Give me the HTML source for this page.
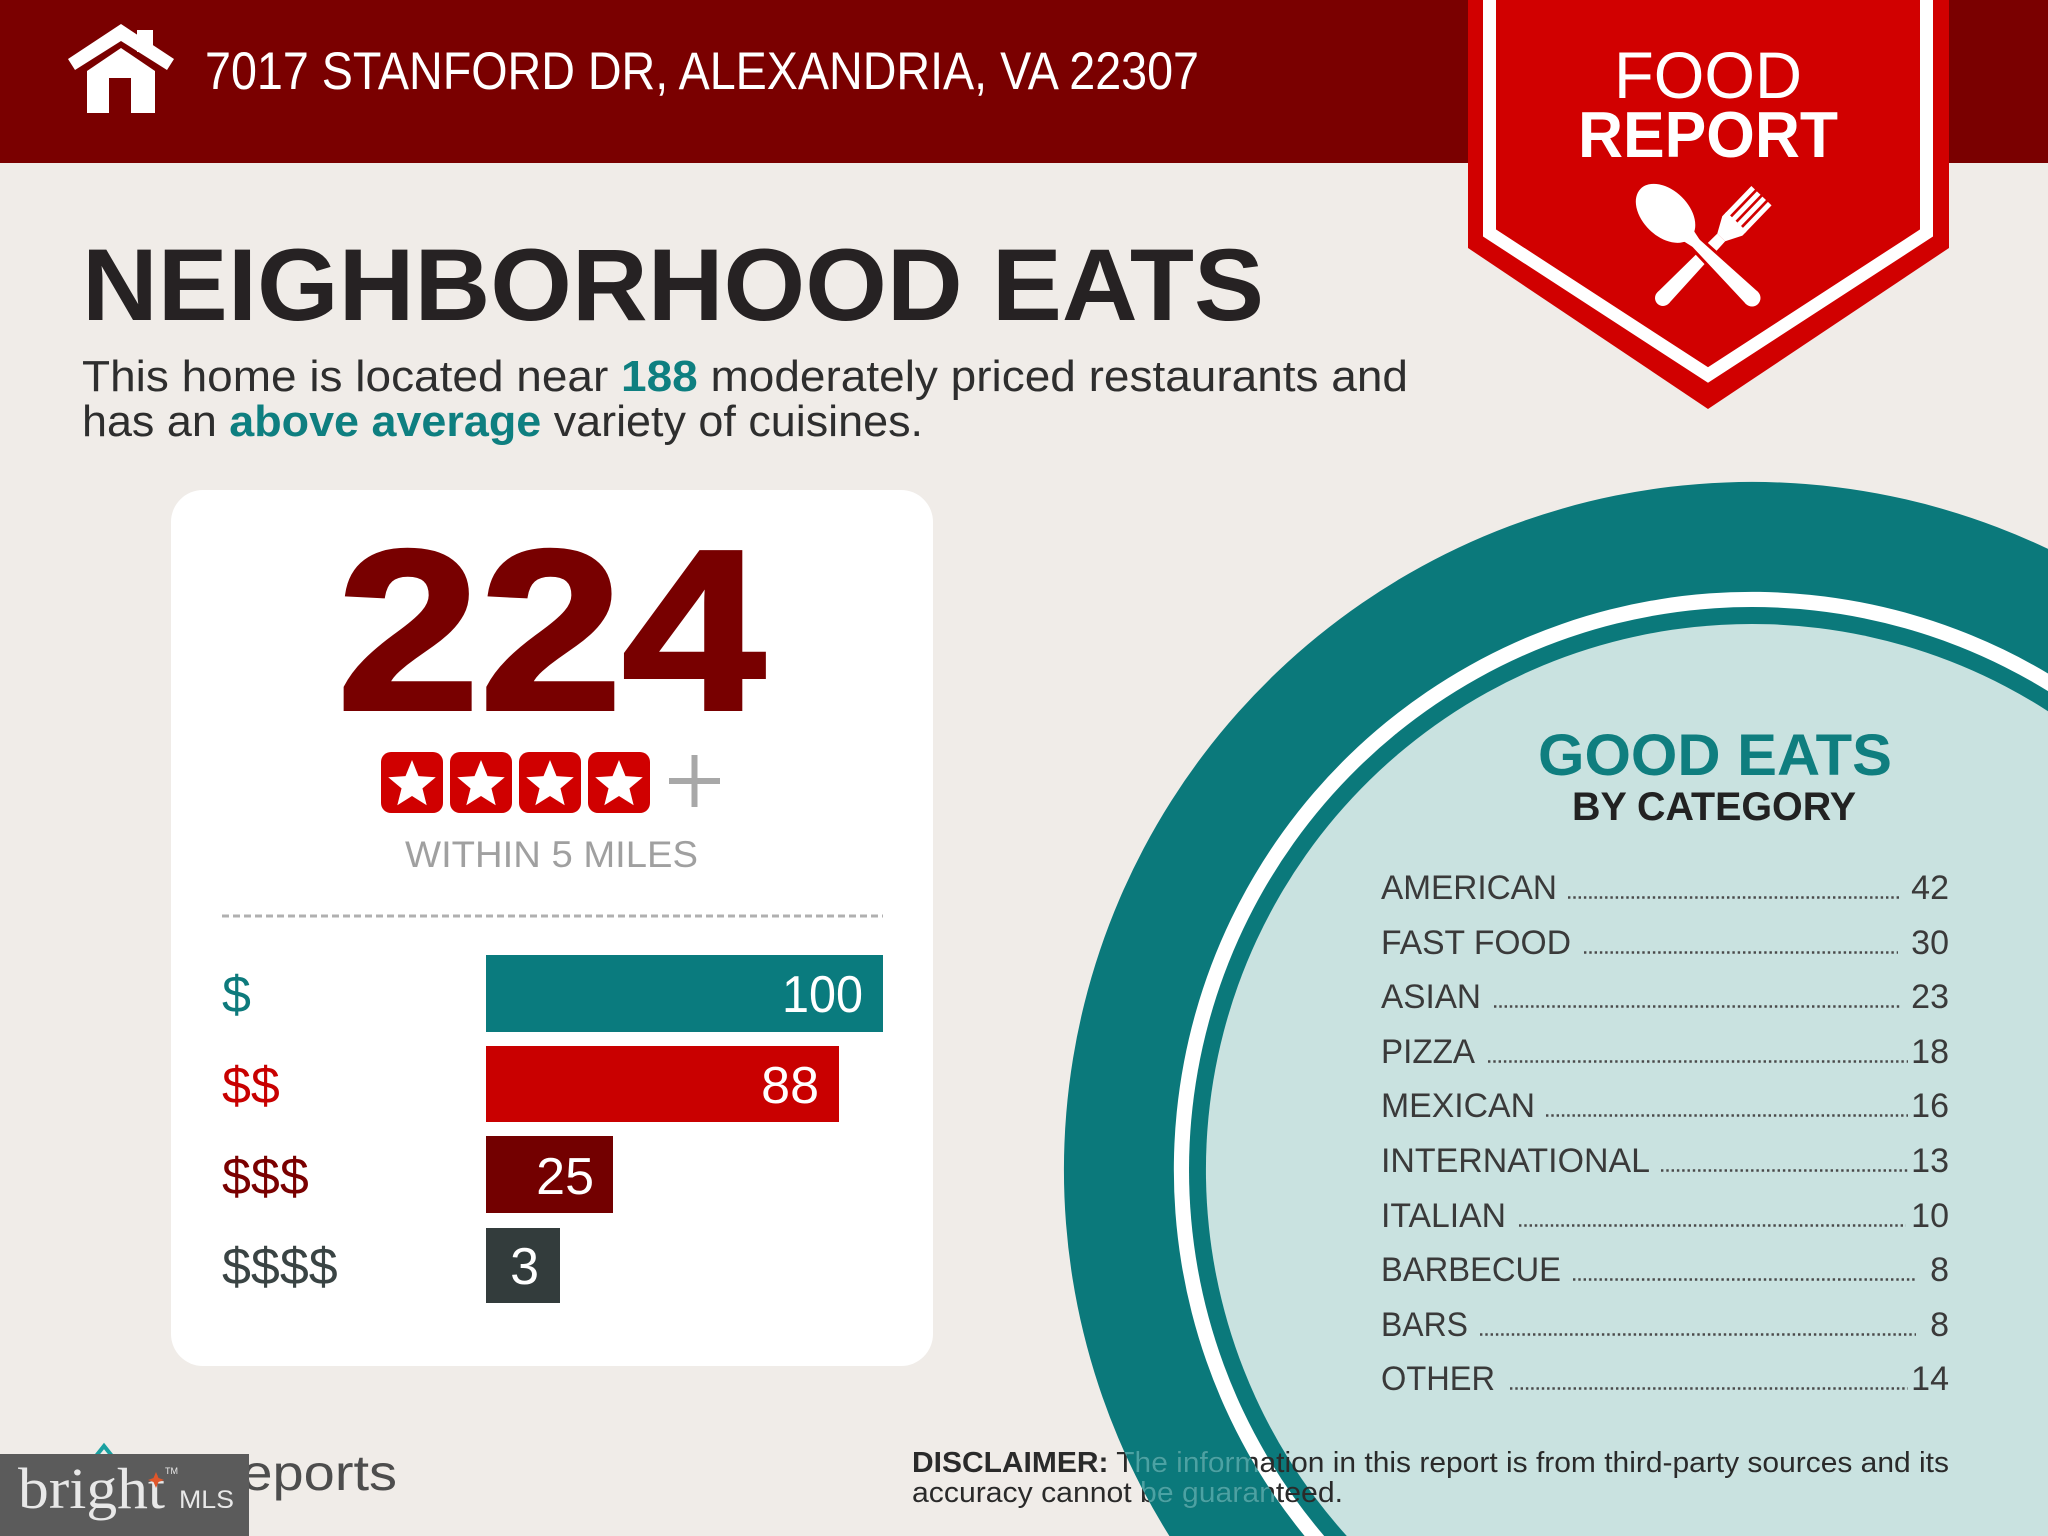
<!DOCTYPE html>
<html>
<head>
<meta charset="utf-8">
<style>
html,body{margin:0;padding:0;background:#f0ece8;width:2048px;height:1536px;overflow:hidden;}
svg{display:block;}
text{font-family:"Liberation Sans",Arial,sans-serif;}
</style>
</head>
<body>
<svg width="2048" height="1536" viewBox="0 0 2048 1536" xmlns="http://www.w3.org/2000/svg">
<defs>
  <polygon id="star" points="0,-25 6.47,-8.9 23.78,-7.73 10.46,3.4 14.69,20.23 0,11 -14.69,20.23 -10.46,3.4 -23.78,-7.73 -6.47,-8.9" fill="#ffffff"/>
  <clipPath id="ring">
    <path clip-rule="evenodd" d="M1064,1170 a688,688 0 1,0 1376,0 a688,688 0 1,0 -1376,0 Z M1174,1170 a578,578 0 1,0 1156,0 a578,578 0 1,0 -1156,0 Z"/>
  </clipPath>
</defs>

<!-- background -->
<rect x="0" y="0" width="2048" height="1536" fill="#f0ece8"/>

<!-- header band -->
<rect x="0" y="0" width="2048" height="163" fill="#7a0000"/>

<!-- house icon -->
<rect x="137" y="30" width="16" height="22" fill="#ffffff"/>
<polygon points="121,24 174,59 167,70 121,41 75,70 68,59" fill="#ffffff"/>
<polygon points="87,113 87,71 121,48 155,71 155,113" fill="#ffffff"/>
<rect x="109" y="78" width="22" height="35" fill="#7a0000"/>

<text x="205" y="89" font-size="53" fill="#ffffff" textLength="994" lengthAdjust="spacingAndGlyphs">7017 STANFORD DR, ALEXANDRIA, VA 22307</text>

<!-- food report banner -->
<polygon points="1468,0 1949,0 1949,248 1708,409 1468,248" fill="#d10000"/>
<polyline points="1489.5,0 1489.5,233 1708,375 1926.5,233 1926.5,0" fill="none" stroke="#ffffff" stroke-width="13" stroke-linejoin="miter"/>
<text x="1614" y="98" font-size="66" fill="#ffffff" textLength="188" lengthAdjust="spacingAndGlyphs">FOOD</text>
<text x="1578" y="157" font-size="65" font-weight="bold" fill="#ffffff" textLength="260" lengthAdjust="spacingAndGlyphs">REPORT</text>

<!-- fork -->
<g transform="translate(1663,298) rotate(-46.1)" fill="#ffffff">
  <circle cx="0" cy="0" r="8"/>
  <polygon points="0,-8 84,-5.5 84,5.5 0,8"/>
  <polygon points="84,-5.5 100,-14 106,-14 106,14 100,14 84,5.5"/>
  <rect x="104" y="-14" width="38" height="5"/>
  <rect x="104" y="-6.3" width="38" height="5"/>
  <rect x="104" y="1.3" width="38" height="5"/>
  <rect x="104" y="9" width="38" height="5"/>
</g>
<!-- spoon -->
<g transform="translate(1752,298) rotate(-135.6)" fill="#ffffff">
  <polygon points="0,-8.5 80,-5 80,5 0,8.5" stroke="#d10000" stroke-width="6" paint-order="stroke"/>
  <circle cx="0" cy="0" r="8.5"/>
  <polygon points="78,-5 92,-8 92,8 78,5"/>
  <ellipse cx="121" cy="0" rx="35" ry="23"/>
</g>

<!-- heading -->
<text x="82" y="320" font-size="102" font-weight="bold" fill="#262223" textLength="1182" lengthAdjust="spacingAndGlyphs">NEIGHBORHOOD EATS</text>
<text x="82" y="391" font-size="44" fill="#2e2e2e" textLength="1326" lengthAdjust="spacingAndGlyphs">This home is located near <tspan font-weight="bold" fill="#0e7f80">188</tspan> moderately priced restaurants and</text>
<text x="82" y="436" font-size="44" fill="#2e2e2e" textLength="841" lengthAdjust="spacingAndGlyphs">has an <tspan font-weight="bold" fill="#0e7f80">above average</tspan> variety of cuisines.</text>

<!-- card -->
<rect x="171" y="490" width="762" height="876" rx="32" ry="32" fill="#ffffff"/>
<text x="337" y="709" font-size="228" font-weight="bold" fill="#780000" stroke="#780000" stroke-width="4" textLength="428" lengthAdjust="spacingAndGlyphs">224</text>

<!-- star squares -->
<rect x="381" y="752" width="62" height="61" rx="10" fill="#d00000"/>
<rect x="450" y="752" width="62" height="61" rx="10" fill="#d00000"/>
<rect x="519" y="752" width="62" height="61" rx="10" fill="#d00000"/>
<rect x="588" y="752" width="62" height="61" rx="10" fill="#d00000"/>
<use href="#star" x="412" y="785"/>
<use href="#star" x="481" y="785"/>
<use href="#star" x="550" y="785"/>
<use href="#star" x="619" y="785"/>
<line x1="669" y1="781" x2="720" y2="781" stroke="#a8a8a8" stroke-width="6"/>
<line x1="694.5" y1="755" x2="694.5" y2="807" stroke="#a8a8a8" stroke-width="6"/>

<text x="405" y="867" font-size="37" fill="#a0a0a0" textLength="293" lengthAdjust="spacingAndGlyphs">WITHIN 5 MILES</text>

<line x1="222" y1="916" x2="883" y2="916" stroke="#b0b0b0" stroke-width="3" stroke-dasharray="7 4"/>

<!-- price bars -->
<rect x="486" y="955" width="397" height="77" fill="#0a7b7e"/>
<rect x="486" y="1046" width="353" height="76" fill="#c90000"/>
<rect x="486" y="1136" width="127" height="77" fill="#730000"/>
<rect x="486" y="1228" width="74" height="75" fill="#333c3c"/>

<text x="222" y="1012" font-size="52" fill="#0d7a7c">$</text>
<text x="222" y="1103" font-size="52" fill="#c80000">$$</text>
<text x="222" y="1194" font-size="52" fill="#7a0000">$$$</text>
<text x="222" y="1284" font-size="52" fill="#3a4444">$$$$</text>

<text x="782" y="1012" font-size="52" fill="#ffffff" textLength="81" lengthAdjust="spacingAndGlyphs">100</text>
<text x="819" y="1103" font-size="52" fill="#ffffff" text-anchor="end">88</text>
<text x="594" y="1194" font-size="52" fill="#ffffff" text-anchor="end">25</text>
<text x="539" y="1284" font-size="52" fill="#ffffff" text-anchor="end">3</text>

<!-- big circle (truncated at frame edges) -->
<path d="M1169.4,1536 A688,688 0 0,1 2048,548.9 L2048,1536 Z" fill="#0b797b"/>
<path d="M1304.6,1536 A578,578 0 0,1 2048,673.5 L2048,1536 Z" fill="#ffffff"/>
<path d="M1324.2,1536 A563,563 0 0,1 2048,691.1 L2048,1536 Z" fill="#0b797b"/>
<path d="M1346.8,1536 A546,546 0 0,1 2048,711.2 L2048,1536 Z" fill="#c9e2e0"/>

<text x="1538" y="775" font-size="58" font-weight="bold" fill="#0f7e7f" textLength="354" lengthAdjust="spacingAndGlyphs">GOOD EATS</text>
<text x="1572" y="820" font-size="40" font-weight="bold" fill="#222222" textLength="284" lengthAdjust="spacingAndGlyphs">BY CATEGORY</text>

<g font-size="34" fill="#3a3a3a">
  <text x="1381" y="899" textLength="176" lengthAdjust="spacingAndGlyphs">AMERICAN</text>
  <text x="1381" y="954" textLength="190" lengthAdjust="spacingAndGlyphs">FAST FOOD</text>
  <text x="1381" y="1008" textLength="100" lengthAdjust="spacingAndGlyphs">ASIAN</text>
  <text x="1381" y="1063" textLength="94" lengthAdjust="spacingAndGlyphs">PIZZA</text>
  <text x="1381" y="1117" textLength="154" lengthAdjust="spacingAndGlyphs">MEXICAN</text>
  <text x="1381" y="1172" textLength="269" lengthAdjust="spacingAndGlyphs">INTERNATIONAL</text>
  <text x="1381" y="1227" textLength="125" lengthAdjust="spacingAndGlyphs">ITALIAN</text>
  <text x="1381" y="1281" textLength="180" lengthAdjust="spacingAndGlyphs">BARBECUE</text>
  <text x="1381" y="1336" textLength="87" lengthAdjust="spacingAndGlyphs">BARS</text>
  <text x="1381" y="1390" textLength="114" lengthAdjust="spacingAndGlyphs">OTHER</text>
</g>
<g font-size="34" fill="#3a3a3a" text-anchor="end">
  <text x="1949" y="899">42</text>
  <text x="1949" y="954">30</text>
  <text x="1949" y="1008">23</text>
  <text x="1949" y="1063">18</text>
  <text x="1949" y="1117">16</text>
  <text x="1949" y="1172">13</text>
  <text x="1949" y="1227">10</text>
  <text x="1949" y="1281">8</text>
  <text x="1949" y="1336">8</text>
  <text x="1949" y="1390">14</text>
</g>
<g stroke="#4a4a4a" stroke-width="2.6" stroke-dasharray="2.4 2.9">
  <line x1="1568" y1="897.5" x2="1900" y2="897.5"/>
  <line x1="1584" y1="952.5" x2="1898" y2="952.5"/>
  <line x1="1494" y1="1006.5" x2="1900" y2="1006.5"/>
  <line x1="1488" y1="1061.5" x2="1908" y2="1061.5"/>
  <line x1="1546" y1="1115.5" x2="1908" y2="1115.5"/>
  <line x1="1661" y1="1170.5" x2="1908" y2="1170.5"/>
  <line x1="1519" y1="1225.5" x2="1906" y2="1225.5"/>
  <line x1="1573" y1="1279.5" x2="1916" y2="1279.5"/>
  <line x1="1480" y1="1334.5" x2="1916" y2="1334.5"/>
  <line x1="1510" y1="1388.5" x2="1908" y2="1388.5"/>
</g>

<!-- disclaimer -->
<g fill="#2a2a2a">
  <text x="912" y="1472" font-size="29" textLength="1037" lengthAdjust="spacingAndGlyphs"><tspan font-weight="bold">DISCLAIMER:</tspan> The information in this report is from third-party sources and its</text>
  <text x="912" y="1502" font-size="29" textLength="431" lengthAdjust="spacingAndGlyphs">accuracy cannot be guaranteed.</text>
</g>
<g fill="#4aa3a4" clip-path="url(#ring)">
  <text x="912" y="1472" font-size="29" textLength="1037" lengthAdjust="spacingAndGlyphs"><tspan font-weight="bold">DISCLAIMER:</tspan> The information in this report is from third-party sources and its</text>
  <text x="912" y="1502" font-size="29" textLength="431" lengthAdjust="spacingAndGlyphs">accuracy cannot be guaranteed.</text>
</g>

<!-- bottom-left logo -->
<polyline points="96,1456 104,1446 112,1456" fill="none" stroke="#1aa0a0" stroke-width="4"/>
<text x="201" y="1490" font-size="50" fill="#4d4d4d" textLength="196" lengthAdjust="spacingAndGlyphs">Reports</text>
<rect x="0" y="1454" width="249" height="82" fill="#5b5b5b"/>
<text x="18" y="1508" font-size="58" fill="#e8e8e8" style="font-family:'Liberation Serif',serif" textLength="147" lengthAdjust="spacingAndGlyphs">bright</text>
<polygon points="156,1472 158.5,1478 164,1480 158.5,1482 156,1488 153.5,1482 148,1480 153.5,1478" fill="#e0562a"/>
<text x="165" y="1474" font-size="9" fill="#e8e8e8">TM</text>
<text x="179" y="1508" font-size="25" fill="#e8e8e8" textLength="55" lengthAdjust="spacingAndGlyphs">MLS</text>
</svg>
</body>
</html>
